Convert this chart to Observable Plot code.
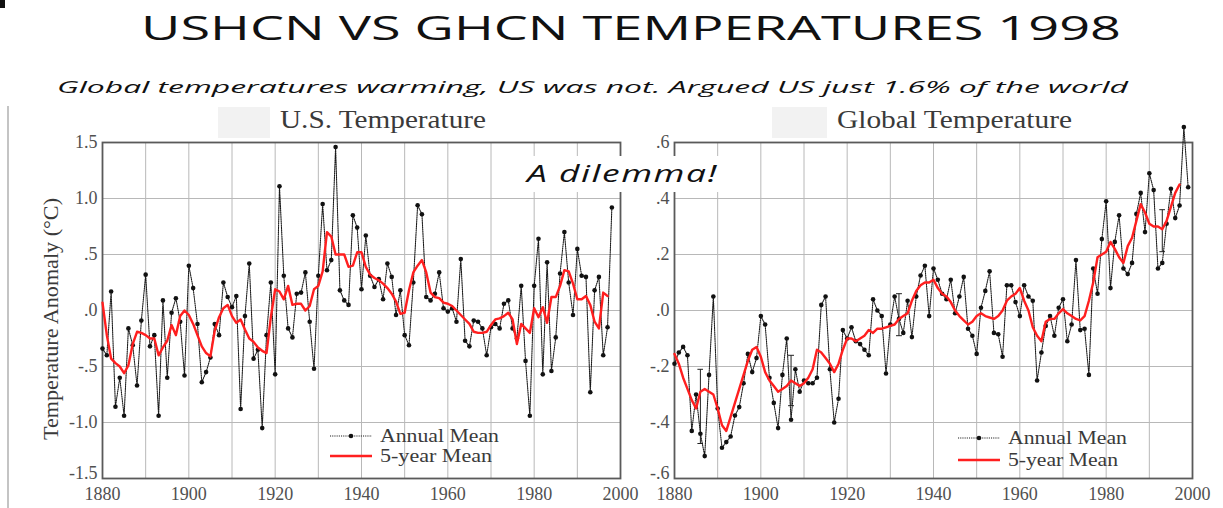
<!DOCTYPE html>
<html><head><meta charset="utf-8">
<script src="https://cdn.jsdelivr.net/npm/d3@7"></script>
<script src="https://cdn.jsdelivr.net/npm/@observablehq/plot@0.6"></script>
<style>
html,body{margin:0;padding:0;background:#fff;}
body{width:1223px;height:508px;overflow:hidden;position:relative;}
.abs{position:absolute;white-space:nowrap;line-height:1;}
.serif{font-family:"Liberation Serif","Times New Roman",serif;color:#3a3a3a;}
.sans{font-family:"Open Sans","Liberation Sans",sans-serif;color:#111;}
.panel{position:absolute;}
</style></head><body>
<script>
// ---------------- data ----------------
const startYear = 1880;
const usAnnual = [
 -0.34,-0.40,0.17,-0.86,-0.60,-0.94,-0.16,-0.31,-0.67,-0.09,
 0.32,-0.32,-0.22,-0.94,0.09,-0.60,-0.02,0.11,-0.10,-0.58,
 0.40,0.20,-0.12,-0.64,-0.55,-0.42,-0.12,-0.22,0.25,0.12,
 0.03,0.13,-0.88,-0.05,0.42,-0.43,-0.35,-1.05,-0.22,0.25,
 -0.57,1.11,0.31,-0.16,-0.24,0.15,0.16,0.34,-0.10,-0.52,
 0.31,0.95,0.36,0.45,1.46,0.18,0.09,0.05,0.85,0.74,
 0.19,0.67,0.31,0.21,0.28,0.10,0.42,0.30,-0.04,0.18,
 -0.22,-0.31,0.25,0.94,0.86,0.12,0.09,0.15,0.34,0.02,
 -0.01,0.02,-0.10,0.46,-0.27,-0.32,-0.09,-0.10,-0.16,-0.40,
 -0.15,-0.12,-0.16,0.06,0.09,-0.16,-0.25,0.22,-0.45,-0.94,
 0.22,0.64,-0.57,0.43,-0.54,-0.24,0.33,0.70,0.25,-0.04,
 0.55,0.31,0.30,-0.73,0.18,0.30,-0.40,-0.15,0.92
];
const usFiveYear = [
 0.07,-0.22,-0.43,-0.47,-0.50,-0.56,-0.49,-0.30,-0.19,-0.20,
 -0.22,-0.25,-0.25,-0.40,-0.33,-0.27,-0.13,-0.22,-0.05,0.00,
 -0.04,-0.12,-0.22,-0.32,-0.38,-0.41,-0.18,-0.06,0.02,0.05,
 -0.05,-0.11,-0.08,-0.17,-0.25,-0.28,-0.33,-0.36,-0.38,-0.06,
 0.19,0.17,0.10,0.22,0.05,0.06,0.06,0.00,0.04,0.19,
 0.22,0.35,0.70,0.66,0.50,0.50,0.50,0.39,0.40,0.52,
 0.52,0.39,0.32,0.29,0.27,0.24,0.20,0.15,0.08,-0.03,
 -0.02,0.18,0.34,0.40,0.45,0.34,0.16,0.12,0.11,0.07,
 0.06,0.04,0.00,-0.04,-0.08,-0.12,-0.19,-0.20,-0.20,-0.19,
 -0.13,-0.08,-0.07,-0.05,-0.02,-0.08,-0.30,-0.12,-0.16,-0.20,
 0.02,-0.06,0.03,-0.11,0.12,0.12,0.22,0.36,0.35,0.24,
 0.10,0.10,0.13,0.05,-0.10,-0.16,0.16,0.13
];
const globalAnnual = [
 -0.19,-0.15,-0.13,-0.16,-0.43,-0.30,-0.44,-0.52,-0.23,0.05,
 -0.35,-0.49,-0.47,-0.45,-0.375,-0.345,-0.26,-0.155,-0.22,-0.17,
 -0.02,-0.05,-0.24,-0.33,-0.42,-0.23,-0.10,-0.39,-0.21,-0.29,
 -0.25,-0.26,-0.26,-0.24,0.02,0.05,-0.21,-0.40,-0.315,-0.07,
 -0.10,-0.06,-0.11,-0.12,-0.14,-0.16,0.04,0.00,-0.02,-0.225,
 -0.05,0.05,-0.03,-0.08,0.035,-0.095,0.05,0.125,0.16,-0.02,
 0.15,0.11,0.06,0.04,0.11,-0.01,0.05,0.12,-0.065,-0.09,
 -0.155,0.01,0.07,0.14,-0.08,-0.085,-0.165,0.09,0.09,0.03,
 -0.02,0.09,0.05,0.035,-0.25,-0.15,-0.055,-0.02,-0.09,0.01,
 0.04,-0.11,-0.05,0.18,-0.07,-0.065,-0.23,0.15,0.06,0.255,
 0.39,0.08,0.245,0.34,0.15,0.13,0.17,0.345,0.42,0.28,
 0.49,0.43,0.15,0.17,0.31,0.435,0.33,0.375,0.655,0.44
];
const globalFiveYear = [
 -0.155,-0.19,-0.24,-0.28,-0.32,-0.35,-0.29,-0.28,-0.29,-0.30,
 -0.35,-0.41,-0.43,-0.38,-0.33,-0.28,-0.23,-0.18,-0.14,-0.13,
 -0.165,-0.22,-0.25,-0.27,-0.29,-0.28,-0.27,-0.25,-0.26,-0.27,
 -0.26,-0.24,-0.21,-0.14,-0.15,-0.17,-0.19,-0.22,-0.19,-0.14,
 -0.10,-0.10,-0.11,-0.10,-0.09,-0.07,-0.08,-0.065,-0.065,-0.06,
 -0.055,-0.05,-0.03,-0.02,-0.01,0.035,0.07,0.09,0.10,0.10,
 0.11,0.08,0.06,0.05,0.03,0.00,-0.02,-0.035,-0.05,-0.04,
 -0.02,-0.01,-0.02,-0.025,-0.03,-0.02,0.00,0.035,0.05,0.06,
 0.08,0.035,0.00,-0.06,-0.09,-0.11,-0.04,-0.03,-0.03,-0.01,
 0.005,-0.01,-0.02,-0.03,-0.035,-0.02,0.035,0.10,0.19,0.20,
 0.21,0.245,0.22,0.19,0.17,0.23,0.26,0.32,0.38,0.35,
 0.31,0.30,0.30,0.29,0.32,0.37,0.42,0.45
];
const globalErrorYears = [1886, 1907, 1932, 1993];
const globalErrorLow   = [-0.475, -0.34, -0.09, 0.21];
const globalErrorHigh  = [-0.21, -0.16, 0.06, 0.36];

const xTickYears = [1880, 1900, 1920, 1940, 1960, 1980, 2000];
const gridYears = [1890, 1900, 1910, 1920, 1930, 1940, 1950, 1960, 1970, 1980, 1990];
const usYTicks = [-1.5, -1.0, -0.5, 0, 0.5, 1.0, 1.5];
const usYTickLabels = ["-1.5", "-1.0", "-.5", ".0", ".5", "1.0", "1.5"];
const globalYTicks = [-0.6, -0.4, -0.2, 0, 0.2, 0.4, 0.6];
const globalYTickLabels = ["-.6", "-.4", "-.2", ".0", ".2", ".4", ".6"];

const titleText = "USHCN VS GHCN TEMPERATURES 1998";
const subtitleText = "Global temperatures warming, US was not. Argued US just 1.6% of the world";
const calloutText = "A dilemma!";
const usPanelTitle = "U.S. Temperature";
const globalPanelTitle = "Global Temperature";
const yAxisTitle = "Temperature Anomaly (°C)";
const legendLabels = ["Annual Mean", "5-year Mean"];

// ---------------- tables ----------------
const toRows = arr => arr.map((v, i) => ({year: startYear + i, value: v}));
const usRows = toRows(usAnnual), usSmooth = toRows(usFiveYear);
const glRows = toRows(globalAnnual), glSmooth = toRows(globalFiveYear);
const errRows = globalErrorYears.map((y, i) => ({year: y, lo: globalErrorLow[i], hi: globalErrorHigh[i]}));

function panel(rows, smooth, yTicks, yLabels, extra) {
  const labelMap = new Map(yTicks.map((t, i) => [t, yLabels[i]]));
  const fmt = d => labelMap.get(d);
  return Plot.plot({
    width: 640, height: 400,
    marginLeft: 102, marginRight: 20, marginTop: 42, marginBottom: 22,
    style: {fontFamily: '"Liberation Serif", "Times New Roman", serif', fontSize: "18px", color: "#505050", background: "transparent", overflow: "visible"},
    x: {domain: [1880, 2000]},
    y: {domain: [yTicks[0], yTicks[yTicks.length - 1]]},
    marks: [
      Plot.gridX(gridYears, {stroke: "#b8b8b8", strokeOpacity: 1, strokeWidth: 1}),
      Plot.gridY(yTicks, {stroke: "#b8b8b8", strokeOpacity: 1, strokeWidth: 1}),
      Plot.axisX(xTickYears, {tickSize: 0, tickPadding: 9, tickFormat: d => String(d), label: null}),
      Plot.axisY(yTicks.slice(1), {tickSize: 0, tickPadding: 5, tickFormat: fmt, label: null}),
      Plot.axisY(yTicks.slice(0, 1), {tickSize: 0, tickPadding: 5, tickFormat: fmt, label: null, dy: -5}),
      Plot.frame({stroke: "#5a5a5a", strokeWidth: 1.8}),
      ...(extra || []),
      Plot.line(rows, {x: "year", y: "value", stroke: "#1a1a1a", strokeWidth: 1.1, strokeDasharray: "1.1 1.1"}),
      Plot.dot(rows, {x: "year", y: "value", r: 2.3, fill: "#111", stroke: "none"}),
      Plot.line(smooth, {x: "year", y: "value", stroke: "#ff1f1f", strokeWidth: 2.4, strokeLinejoin: "round"})
    ]
  });
}

const usChart = panel(usRows, usSmooth, usYTicks, usYTickLabels);
const glChart = panel(glRows, glSmooth, globalYTicks, globalYTickLabels, [
  Plot.link(errRows, {x1: "year", x2: "year", y1: "lo", y2: "hi", stroke: "#222", strokeWidth: 1, marker: "tick"})
]);

function addAbs(el, left, top) { el.style.left = left + "px"; el.style.top = top + "px"; document.body.appendChild(el); return el; }
const w1 = document.createElement("div"); w1.className = "panel"; w1.appendChild(usChart); addAbs(w1, 0, 100);
const w2 = document.createElement("div"); w2.className = "panel"; w2.appendChild(glChart); addAbs(w2, 572, 100);

// decoration (slide border, gray boxes, callout box)
function box(left, top, w, h, bg, z) {
  const d = document.createElement("div");
  d.style.cssText = `position:absolute;left:${left}px;top:${top}px;width:${w}px;height:${h}px;background:${bg};z-index:${z||0}`;
  document.body.appendChild(d); return d;
}
box(7, 106, 2, 402, "#c4c4c4");
box(0, 0, 5, 8, "#111");
box(218, 107, 52, 31, "#f2f2f2");
box(772, 107, 55, 31, "#f2f2f2");
box(519, 156, 205, 36, "#ffffff", 5);

// text helpers
const fits = [];
function text(str, cls, font, left, width, cy) {
  const s = document.createElement("div");
  s.className = "abs " + cls;
  s.textContent = str;
  s.style.cssText += font;
  s.style.left = left + "px";
  s.style.zIndex = 10;
  document.body.appendChild(s);
  fits.push({s, left, width, cy});
  return s;
}
text(titleText, "sans", "font-size:32px;", 141, 980, 28);
text(subtitleText, "sans", "font-size:16.5px;font-style:italic;", 57, 1071, 87);
text(calloutText, "sans", "font-size:23px;font-style:italic;letter-spacing:1px;", 527, 191, 173);
text(usPanelTitle, "serif", "font-size:25px;", 280, 206, 119);
text(globalPanelTitle, "serif", "font-size:25px;", 837, 235, 119);
text(legendLabels[0], "serif", "font-size:18px;", 380, 119, 436);
text(legendLabels[1], "serif", "font-size:18px;", 380, 112, 456);
text(legendLabels[0], "serif", "font-size:18px;", 1008, 119, 438);
text(legendLabels[1], "serif", "font-size:18px;", 1008, 110, 460);

// legend swatches
function swatch(x0, x1, y, annual) {
  const ns = "http://www.w3.org/2000/svg";
  const svg = document.createElementNS(ns, "svg");
  svg.setAttribute("width", x1 - x0 + 6); svg.setAttribute("height", 10);
  svg.style.cssText = `position:absolute;left:${x0 - 3}px;top:${y - 5}px;z-index:10`;
  const ln = document.createElementNS(ns, "line");
  ln.setAttribute("x1", 3); ln.setAttribute("x2", x1 - x0 + 3); ln.setAttribute("y1", 5); ln.setAttribute("y2", 5);
  if (annual) {
    ln.setAttribute("stroke", "#1a1a1a"); ln.setAttribute("stroke-width", 1.1); ln.setAttribute("stroke-dasharray", "1.1 1.1");
    svg.appendChild(ln);
    const c = document.createElementNS(ns, "circle");
    c.setAttribute("cx", (x1 - x0) / 2 + 3); c.setAttribute("cy", 5); c.setAttribute("r", 2.3); c.setAttribute("fill", "#111");
    svg.appendChild(c);
  } else {
    ln.setAttribute("stroke", "#ff1f1f"); ln.setAttribute("stroke-width", 2.4);
    svg.appendChild(ln);
  }
  document.body.appendChild(svg);
}
swatch(330, 372, 436, true);
swatch(330, 372, 456, false);
swatch(958, 1000, 438, true);
swatch(958, 1000, 460, false);

// rotated y-axis title
const yl = document.createElement("div");
yl.className = "abs serif";
yl.textContent = yAxisTitle;
yl.style.cssText += "font-size:20px;z-index:10;";
document.body.appendChild(yl);

function layout() {
  for (const f of fits) {
    f.s.style.transform = "none";
    const r = f.s.getBoundingClientRect();
    f.s.style.top = (f.cy - r.height / 2) + "px";
    f.s.style.transformOrigin = "0 50%";
    f.s.style.transform = `scaleX(${f.width / r.width})`;
  }
  yl.style.transform = "none";
  const r = yl.getBoundingClientRect();
  const sx = 242 / r.width;
  yl.style.left = (51 - r.width / 2) + "px";
  yl.style.top = (319 - r.height / 2) + "px";
  yl.style.transformOrigin = "50% 50%";
  yl.style.transform = `rotate(-90deg) scaleX(${sx})`;
}
layout();
if (document.fonts && document.fonts.ready) document.fonts.ready.then(layout);
</script>
</body></html>
